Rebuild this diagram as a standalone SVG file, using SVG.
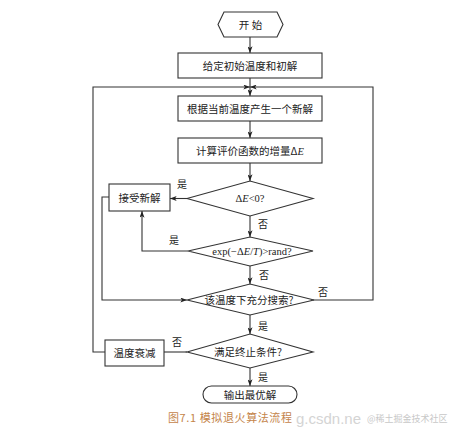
<svg xmlns="http://www.w3.org/2000/svg" width="468" height="438" viewBox="0 0 468 438">
<defs>
<marker id="ah" viewBox="0 0 8 6" refX="8" refY="3" markerWidth="7" markerHeight="5" orient="auto" markerUnits="userSpaceOnUse">
<path d="M0,0 L8,3 L0,6 L2,3 z" fill="#222"/>
</marker>
</defs>
<style>
.s{fill:#fff;stroke:#333;stroke-width:1.1}
.t{font-family:"Noto Sans CJK SC","Liberation Serif",serif;font-size:10.5px;fill:#222;text-anchor:middle}
.m{font-family:"Liberation Serif","Noto Sans CJK SC",serif;font-size:10.5px;fill:#222;text-anchor:middle}
.l{font-family:"Noto Sans CJK SC",serif;font-size:10px;fill:#222;text-anchor:middle}
.c{fill:none;stroke:#333;stroke-width:1.1}
.a{marker-end:url(#ah)}
</style>
<rect width="468" height="438" fill="#fff"/>
<g id="connectors">
<path class="c a" d="M250,37 V53"/>
<path class="c a" d="M250,78 V96"/>
<path class="c a" d="M250,121 V138"/>
<path class="c a" d="M250,163 V181"/>
<path class="c a" d="M250,216 V237"/>
<path class="c a" d="M250,266 V284"/>
<path class="c a" d="M250,315 V334"/>
<path class="c a" d="M250,368 V386"/>
<path class="c a" d="M187,198.5 H170"/>
<path class="c a" d="M188,251 H142 V211"/>
<path class="c a" d="M109,197 H102 V300 H187"/>
<path class="c a" d="M313,300 H373 V87 H250"/>
<path class="c" d="M187,352 H164"/>
<path class="c a" d="M105,352 H93 V87 H250"/>
<text class="l" x="182" y="188">是</text>
<text class="l" x="263" y="228">否</text>
<text class="l" x="174" y="244">是</text>
<text class="l" x="264" y="279">否</text>
<text class="l" x="323" y="296">否</text>
<text class="l" x="263" y="330">是</text>
<text class="l" x="177" y="346">否</text>
<text class="l" x="263" y="381">是</text>
</g>
<g id="start">
<path class="s" d="M218,24.5 L224,12 H277 L283,24.5 L277,37 H224 Z"/>
<text class="t" x="250.5" y="28.5">开   始</text>
</g>
<g id="init">
<rect class="s" x="178" y="53" width="144" height="25"/>
<text class="t" x="250" y="69.5">给定初始温度和初解</text>
</g>
<g id="newsol">
<rect class="s" x="178" y="96" width="144" height="25"/>
<text class="t" x="250" y="112.5">根据当前温度产生一个新解</text>
</g>
<g id="delta">
<rect class="s" x="178" y="138" width="144" height="25"/>
<text class="t" x="250" y="154.5">计算评价函数的增量Δ<tspan font-family="Liberation Serif" font-style="italic">E</tspan></text>
</g>
<g id="d1">
<path class="s" d="M187,198.5 L250,181 L313,198.5 L250,216 Z"/>
<text class="m" x="250" y="202">Δ<tspan font-style="italic">E</tspan>&lt;0?</text>
</g>
<g id="accept">
<rect class="s" x="109" y="184" width="61" height="27"/>
<text class="t" x="139.5" y="201.5">接受新解</text>
</g>
<g id="d2">
<path class="s" d="M188,251 L250,237 L313,251 L250,266 Z"/>
<text class="m" x="252" y="255">exp(−Δ<tspan font-style="italic">E</tspan>/<tspan font-style="italic">T</tspan>)&gt;rand?</text>
</g>
<g id="d3">
<path class="s" d="M187,300 L250,284 L314,300 L250,315 Z"/>
<text class="t" x="249" y="303.5">该温度下充分搜索?</text>
</g>
<g id="d4">
<path class="s" d="M187,352 L250,334 L313,352 L250,368 Z"/>
<text class="t" x="248" y="355.5">满足终止条件?</text>
</g>
<g id="decay">
<rect class="s" x="105" y="340" width="59" height="26"/>
<text class="t" x="134.5" y="356.5">温度衰减</text>
</g>
<g id="output">
<rect class="s" x="203" y="386" width="94" height="17" rx="8.5"/>
<text class="t" x="250" y="398.5">输出最优解</text>
</g>
<g id="caption">
<text x="168" y="422" font-family="Noto Sans CJK SC,serif" font-size="11" letter-spacing="0.6" fill="#c4844a">图7.1 模拟退火算法流程</text>
<text x="296" y="424" font-family="Liberation Sans,sans-serif" font-size="15" fill="#d4d4d4">g.csdn.ne</text>
<text x="367" y="422" font-family="Noto Sans CJK SC,sans-serif" font-size="9" fill="#c8c8c8">@稀土掘金技术社区</text>
</g>
</svg>
